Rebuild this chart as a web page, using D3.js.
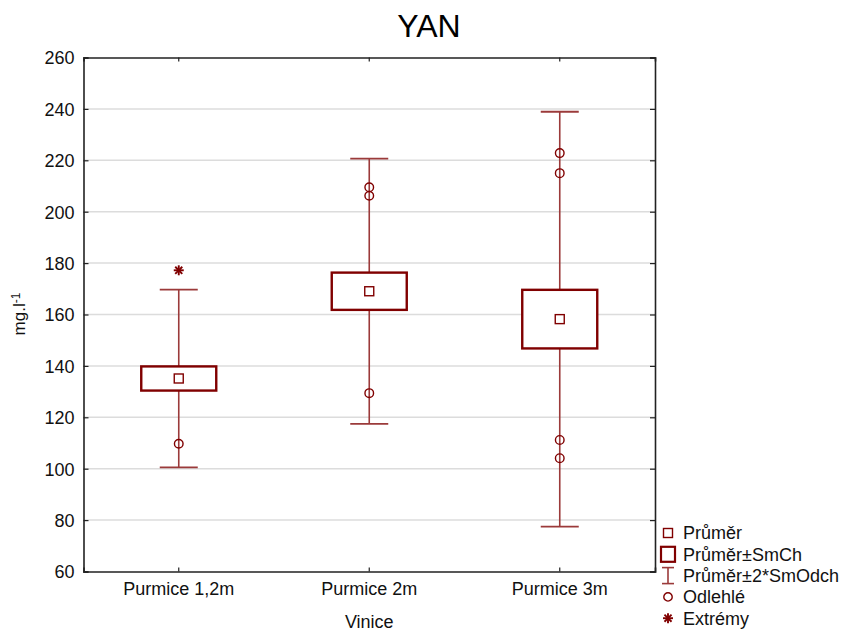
<!DOCTYPE html>
<html>
<head>
<meta charset="utf-8">
<script src="https://cdn.jsdelivr.net/npm/d3@7/dist/d3.min.js"></script>
<style>
  body { margin: 0; background: #fff; }
  svg { display: block; font-family: "Liberation Sans", Arial, sans-serif; }
</style>
</head>
<body>
<svg id="chart" width="843" height="632"></svg>
<script>
// YAN by vineyard: mean, mean ± standard error, mean ± 2·SD, outliers, extremes
const categories = ["Purmice 1,2m", "Purmice 2m", "Purmice 3m"];
const means      = [135.1, 169.05, 158.2];
const stdErr     = [4.7, 7.25, 11.4];
const stdDev     = [17.3, 25.8, 40.35];
const outliers   = [[109.7], [209.5, 206.2, 129.4], [222.8, 215.0, 111.2, 104.1]];
const extremes   = [[177.2], [], []];
const yTicks     = [60, 80, 100, 120, 140, 160, 180, 200, 220, 240, 260];

const legendItems = ["Průměr", "Průměr±SmCh", "Průměr±2*SmOdch", "Odlehlé", "Extrémy"];

const RED = "#800000";
const WHISK = "#9b3a3a";

const svg = d3.select("#chart");
const plot = { left: 83.5, right: 655, top: 57.5, bottom: 571.5 };

const x = d3.scaleBand().domain(categories).range([plot.left, plot.right]).padding(0);
const y = d3.scaleLinear().domain([60, 260]).range([plot.bottom, plot.top]);

// gridlines
svg.append("g").selectAll("line").data(yTicks.slice(1, -1)).join("line")
  .attr("x1", plot.left).attr("x2", plot.right)
  .attr("y1", d => y(d)).attr("y2", d => y(d))
  .attr("stroke", "#dcdcdc").attr("stroke-width", 1.5);

// axes: ticks point inward
const yAxis = svg.append("g").attr("transform", `translate(${plot.left},0)`)
  .call(d3.axisLeft(y).tickValues(yTicks).tickSize(-5).tickPadding(9));
const yAxisR = svg.append("g").attr("transform", `translate(${plot.right},0)`)
  .call(d3.axisRight(y).tickValues(yTicks).tickSize(-5).tickFormat(""));
const xAxis = svg.append("g").attr("transform", `translate(0,${plot.bottom})`)
  .call(d3.axisBottom(x).tickSize(-4).tickPadding(11));
const xAxisT = svg.append("g").attr("transform", `translate(0,${plot.top})`)
  .call(d3.axisTop(x).tickSize(-4).tickFormat(""));

[yAxis, yAxisR, xAxis, xAxisT].forEach(g => {
  g.select(".domain").attr("stroke", "#222").attr("stroke-width", 1.6);
  g.selectAll(".tick line").attr("stroke", "#222").attr("stroke-width", 1.2);
  g.selectAll("text").attr("fill", "#111").style("font-size", "18px")
    .style("font-family", "Liberation Sans, Arial, sans-serif");
});
yAxis.selectAll("text").attr("dy", "0.36em");
xAxis.selectAll("text").attr("dy", "0.71em");

// boxes
const boxW = 75, capW = 38;
const groups = svg.append("g").selectAll("g").data(categories).join("g")
  .attr("transform", d => `translate(${x(d) + x.bandwidth() / 2},0)`);

groups.each(function(c, i) {
  const g = d3.select(this);
  const m = means[i], se = stdErr[i], sd = stdDev[i];
  // whisker: mean ± 2 SD
  g.append("line").attr("x1", 0).attr("x2", 0)
    .attr("y1", y(m + 2 * sd)).attr("y2", y(m + se))
    .attr("stroke", WHISK).attr("stroke-width", 1.6);
  g.append("line").attr("x1", 0).attr("x2", 0)
    .attr("y1", y(m - se)).attr("y2", y(m - 2 * sd))
    .attr("stroke", WHISK).attr("stroke-width", 1.6);
  [m + 2 * sd, m - 2 * sd].forEach(v => {
    g.append("line").attr("x1", -capW / 2).attr("x2", capW / 2)
      .attr("y1", y(v)).attr("y2", y(v))
      .attr("stroke", WHISK).attr("stroke-width", 1.8);
  });
  // box: mean ± SE
  g.append("rect").attr("x", -boxW / 2).attr("width", boxW)
    .attr("y", y(m + se)).attr("height", y(m - se) - y(m + se))
    .attr("fill", "#fff").attr("stroke", RED).attr("stroke-width", 2.4);
  // mean marker
  g.append("rect").attr("x", -4.5).attr("y", y(m) - 4.5).attr("width", 9).attr("height", 9)
    .attr("fill", "#fff").attr("stroke", RED).attr("stroke-width", 1.4);
  // outliers
  g.selectAll("circle.out").data(outliers[i]).join("circle").attr("class", "out")
    .attr("cx", 0).attr("cy", d => y(d)).attr("r", 4.3)
    .attr("fill", "none").attr("stroke", RED).attr("stroke-width", 1.4);
  // extremes
  extremes[i].forEach(v => drawStar(g, 0, y(v)));
});

function drawStar(g, cx, cy) {
  const r = 5;
  const s = g.append("g").attr("stroke", RED).attr("stroke-width", 1.9);
  [0, 45, 90, 135].forEach(a => {
    const rad = a * Math.PI / 180;
    s.append("line")
      .attr("x1", cx - r * Math.cos(rad)).attr("y1", cy - r * Math.sin(rad))
      .attr("x2", cx + r * Math.cos(rad)).attr("y2", cy + r * Math.sin(rad));
  });
}

// title and axis labels
svg.append("text").attr("x", 429).attr("y", 37).attr("text-anchor", "middle")
  .style("font-size", "32px").attr("fill", "#000").text("YAN");
svg.append("text").attr("x", (plot.left + plot.right) / 2).attr("y", 628)
  .attr("text-anchor", "middle").style("font-size", "18px").attr("fill", "#111").text("Vinice");
const yl = svg.append("text").attr("transform", "translate(25,314) rotate(-90)")
  .attr("text-anchor", "middle").style("font-size", "17px").attr("fill", "#111");
yl.append("tspan").text("mg.l");
yl.append("tspan").attr("dy", "-0.45em").style("font-size", "12px").text("-1");

// legend
const lg = svg.append("g").attr("transform", "translate(668,533)");
const rowH = 21.3;
legendItems.forEach((t, i) => {
  const row = lg.append("g").attr("transform", `translate(0,${i * rowH})`);
  if (i === 0) {
    row.append("rect").attr("x", -4.5).attr("y", -4.5).attr("width", 9).attr("height", 9)
      .attr("fill", "#fff").attr("stroke", RED).attr("stroke-width", 1.4);
  } else if (i === 1) {
    row.append("rect").attr("x", -7).attr("y", -7.5).attr("width", 14).attr("height", 15)
      .attr("fill", "#fff").attr("stroke", RED).attr("stroke-width", 2.2);
  } else if (i === 2) {
    row.append("line").attr("x1", 0).attr("x2", 0).attr("y1", -8).attr("y2", 8)
      .attr("stroke", WHISK).attr("stroke-width", 1.6);
    [-8, 8].forEach(dy => row.append("line").attr("x1", -6).attr("x2", 6)
      .attr("y1", dy).attr("y2", dy).attr("stroke", WHISK).attr("stroke-width", 1.6));
  } else if (i === 3) {
    row.append("circle").attr("r", 4.2).attr("fill", "none")
      .attr("stroke", RED).attr("stroke-width", 1.4);
  } else {
    drawStar(row, 0, 0);
  }
  row.append("text").attr("x", 15).attr("dy", "0.36em").style("font-size", "18px")
    .attr("fill", "#111").text(t);
});
</script>
</body>
</html>
